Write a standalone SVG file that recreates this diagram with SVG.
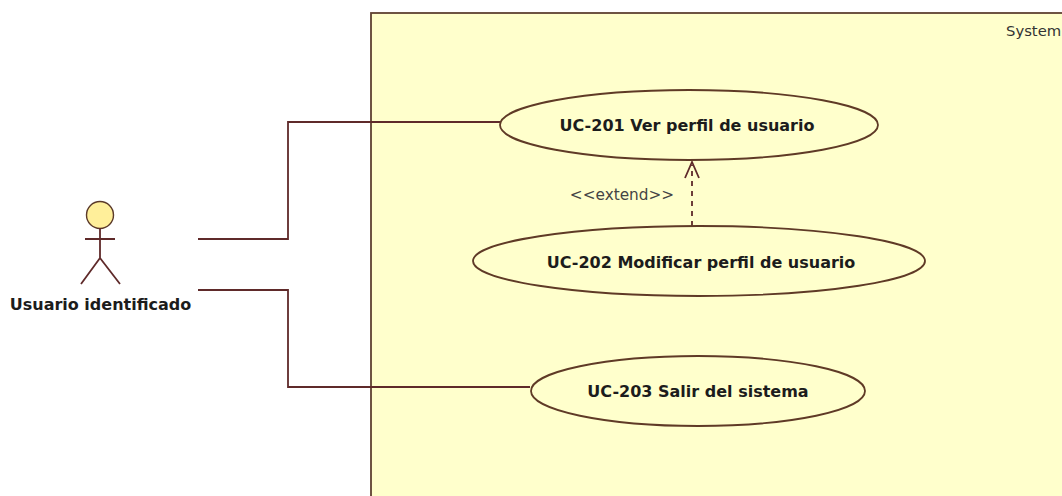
<svg xmlns="http://www.w3.org/2000/svg" width="1062" height="496" viewBox="0 0 1062 496">
<style>
.l{fill:none;stroke:#5f2a2a;stroke-width:1.8}
.u{fill:#ffffcc;stroke:#5f3a26;stroke-width:1.8}
.t{font-family:"DejaVu Sans",Tahoma,sans-serif;fill:#1c1c1c;text-anchor:middle}
.b{font-weight:700;font-size:16px}
</style>
<rect width="1062" height="496" fill="#fff"/>
<g id="system"><rect x="371" y="13" width="700" height="500" fill="#ffffcc" stroke="#5f4232" stroke-width="1.8"/>
<text x="1006" y="36" font-size="14.8" style="font-family:'DejaVu Sans',sans-serif;fill:#333">System</text></g>
<g id="connectors">
<path class="l" d="M198 239H288V122H500"/>
<path class="l" d="M198 290H288V387H530"/>
<path class="l" d="M692 226V165" stroke-dasharray="5 5"/>
<path class="l" d="M685 178L692 162L699 178"/>
<text class="t" x="622" y="200" font-size="15.3" style="fill:#444">&lt;&lt;extend&gt;&gt;</text>
</g>
<g id="actor">
<circle cx="100" cy="215" r="13.5" fill="#ffef9a" stroke="#5b3a2a" stroke-width="1.4"/>
<path class="l" d="M100 228V258M85 239H115M100 258L81 284M100 258L120 284"/>
<text class="t b" x="100.500" y="310">Usuario identificado</text>
</g>
<g id="uc201"><ellipse class="u" cx="689" cy="125" rx="189" ry="35"/><text class="t b" x="687" y="131">UC-201 Ver perfil de usuario</text></g>
<g id="uc202"><ellipse class="u" cx="699" cy="261" rx="226" ry="35"/><text class="t b" x="701" y="268">UC-202 Modificar perfil de usuario</text></g>
<g id="uc203"><ellipse class="u" cx="698" cy="391" rx="167" ry="35"/><text class="t b" x="698" y="397">UC-203 Salir del sistema</text></g>
</svg>
